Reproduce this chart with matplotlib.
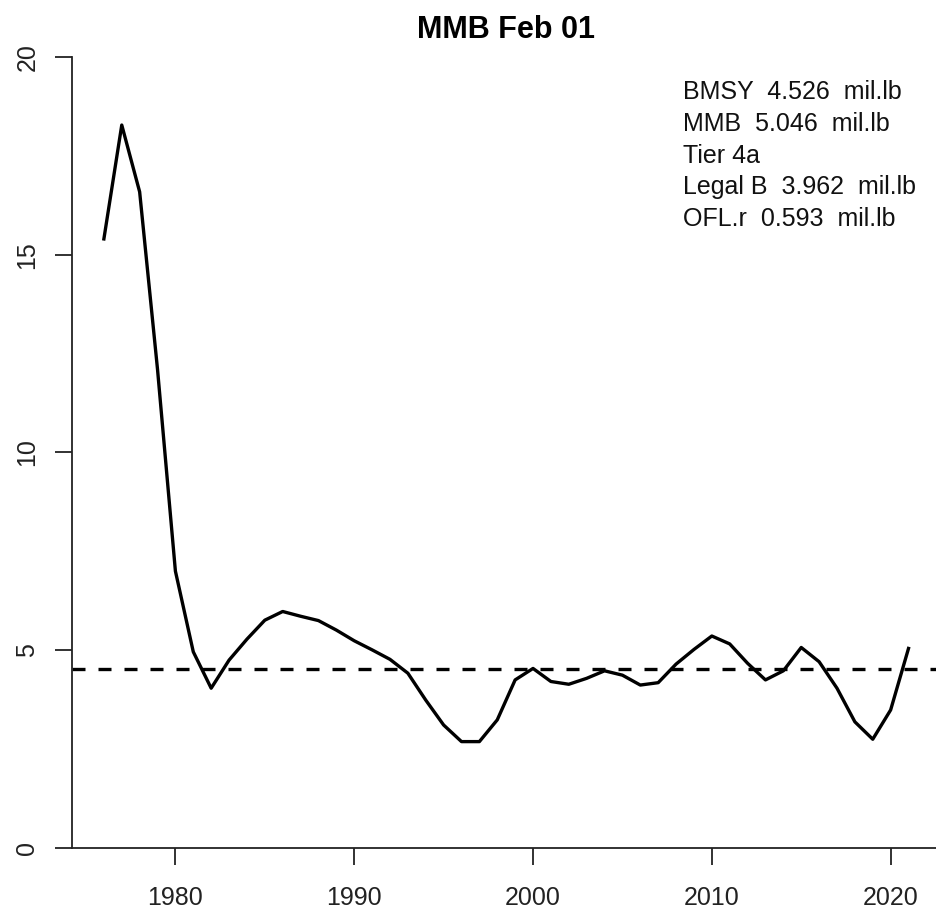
#!/usr/bin/env python3

import matplotlib
matplotlib.use("Agg")
import matplotlib.pyplot as plt

plt.rcParams['font.family'] = ['Liberation Sans', 'DejaVu Sans']

# MMB on Feb 01, mil.lb
years = list(range(1976, 2022))
mmb = [15.4, 18.28, 16.59, 12.1, 7.0, 4.96, 4.04, 4.75, 5.28, 5.76,
       5.98, 5.86, 5.75, 5.51, 5.24, 5.01, 4.77, 4.42, 3.74, 3.11,
       2.69, 2.69, 3.24, 4.25, 4.54, 4.21, 4.14, 4.29, 4.48, 4.37,
       4.12, 4.18, 4.65, 5.02, 5.36, 5.16, 4.67, 4.25, 4.48, 5.07,
       4.71, 4.04, 3.19, 2.75, 3.49, 5.046]
bmsy = 4.526

info_lines = ["BMSY  4.526  mil.lb",
              "MMB  5.046  mil.lb",
              "Tier 4a",
              "Legal B  3.962  mil.lb",
              "OFL.r  0.593  mil.lb"]

W, H = 937, 914
fig = plt.figure(figsize=(W / 100, H / 100), dpi=100)
ax = fig.add_axes([71.7 / W, 66 / H, 869 / W, 791 / H])

ax.plot(years, mmb, color='black', lw=2.4, solid_joinstyle='round')
ax.axhline(bmsy, color='black', lw=2.4, linestyle=(0, (3.9, 3.9)))

ax.set_xlim(1974.2, 2022.8)
ax.set_ylim(0, 20)
ax.set_xticks([1980, 1990, 2000, 2010, 2020])
ax.set_yticks([0, 5, 10, 15, 20])

for s in ['top', 'right']:
    ax.spines[s].set_visible(False)
for s in ['left', 'bottom']:
    ax.spines[s].set_linewidth(1.3)
    ax.spines[s].set_color('#222222')

ax.tick_params(axis='both', length=12.2, width=1.3, color='#222222',
               labelsize=18, labelcolor='#222222')
ax.tick_params(axis='x', pad=15)
ax.tick_params(axis='y', pad=11)
for lab in ax.get_yticklabels():
    lab.set_rotation(90)
    lab.set_va('center')

ax.set_title("MMB Feb 01", fontsize=22, fontweight='bold', pad=14)

# stats block in the upper right
for i, txt in enumerate(info_lines):
    ax.text(2008.37, 18.93 - 0.8 * i, txt, fontsize=18, color='#111111',
            ha='left', va='baseline')

fig.savefig("out.png", dpi=100)
